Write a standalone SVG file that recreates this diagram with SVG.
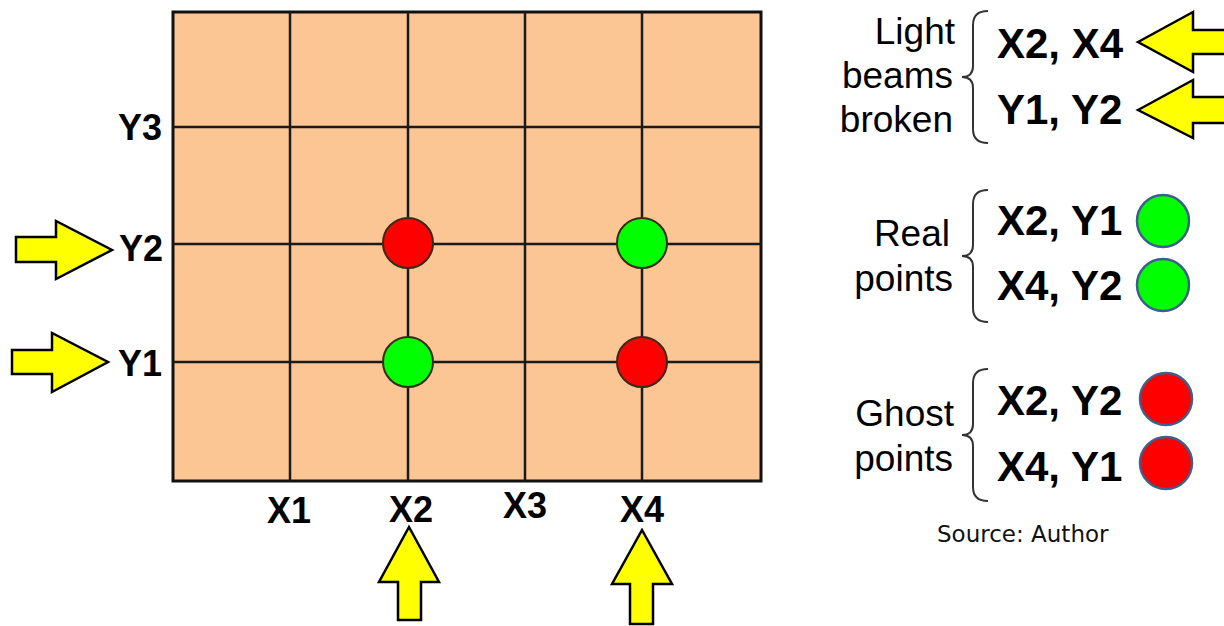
<svg xmlns="http://www.w3.org/2000/svg" width="1224" height="626" viewBox="0 0 1224 626">
<style>
.grid{fill:#fbc694;stroke:#111;stroke-width:3}
.gl{stroke:#1a1a1a;stroke-width:2.5;fill:none}
.arrow{fill:#ffff00;stroke:#000;stroke-width:2.5;stroke-linejoin:miter}
.lbl{font-family:"Liberation Sans",Arial,sans-serif;font-weight:bold;font-size:36px;fill:#000}
.big{font-family:"Liberation Sans",Arial,sans-serif;font-weight:bold;font-size:42px;fill:#000}
.reg{font-family:"Liberation Sans",Arial,sans-serif;font-size:37px;fill:#000;text-anchor:end}
.src{font-family:"DejaVu Sans",sans-serif;font-size:23px;fill:#111}
.red{fill:#ff0000;stroke:#3a2a1a;stroke-width:2}
.green{fill:#00ff00;stroke:#3a2a1a;stroke-width:2}
.redL{fill:#ff0000;stroke:#3d5f8c;stroke-width:2.5}
.greenL{fill:#00ff00;stroke:#3d5f8c;stroke-width:2.5}
.brace{fill:none;stroke:#333;stroke-width:2}
</style>
<defs>
<path id="br" d="M 26 0 C 16 0 11 5 11 14 L 11 55 C 11 62 7 66 0 66 C 7 66 11 70 11 77 L 11 118 C 11 127 16 132 26 132"/>
</defs>
<g id="grid">
<rect class="grid" x="173" y="12" width="588" height="469"/>
<path class="gl" d="M290 12V481M408 12V481M525 12V481M642 12V481M173 127H761M173 244H761M173 362H761"/>
</g>
<g id="points">
<circle class="red" cx="408" cy="243" r="25"/>
<circle class="green" cx="408" cy="362" r="25"/>
<circle class="green" cx="642" cy="243" r="25"/>
<circle class="red" cx="642" cy="362" r="25"/>
</g>
<g id="axis-labels">
<text class="lbl" x="162" y="140" text-anchor="end">Y3</text>
<text class="lbl" x="163" y="261" text-anchor="end">Y2</text>
<text class="lbl" x="162" y="376" text-anchor="end">Y1</text>
<text class="lbl" x="289" y="523" text-anchor="middle">X1</text>
<text class="lbl" x="411" y="522" text-anchor="middle">X2</text>
<text class="lbl" x="525" y="518" text-anchor="middle">X3</text>
<text class="lbl" x="642" y="522" text-anchor="middle">X4</text>
</g>
<g id="beam-arrows">
<polygon class="arrow" points="16,237 56,237 56,221 112,250 56,279 56,262 16,262"/>
<polygon class="arrow" points="12,350 52,350 52,333 108,362 52,392 52,374 12,374"/>
<polygon class="arrow" points="409,527 439,582 421,582 421,620 398,620 398,582 379,582"/>
<polygon class="arrow" points="642,530 672,584 653,584 653,624 630,624 630,584 612,584"/>
</g>
<g id="legend-beams">
<text class="reg" x="955" y="44">Light</text>
<text class="reg" x="953" y="88">beams</text>
<text class="reg" x="953" y="132">broken</text>
<use href="#br" class="brace" transform="translate(962,11)"/>
<text class="big" x="997" y="58">X2, X4</text>
<text class="big" x="997" y="124">Y1, Y2</text>
<polygon class="arrow" points="1138,42 1193,12 1193,30 1230,30 1230,54 1193,54 1193,72"/>
<polygon class="arrow" points="1138,110 1193,80 1193,97 1230,97 1230,123 1193,123 1193,138"/>
</g>
<g id="legend-real">
<text class="reg" x="950" y="246">Real</text>
<text class="reg" x="953" y="291">points</text>
<use href="#br" class="brace" transform="translate(962,190)"/>
<text class="big" x="997" y="235">X2, Y1</text>
<text class="big" x="997" y="300">X4, Y2</text>
<circle class="greenL" cx="1163" cy="221" r="26"/>
<circle class="greenL" cx="1163" cy="285" r="26"/>
</g>
<g id="legend-ghost">
<text class="reg" x="954" y="426">Ghost</text>
<text class="reg" x="953" y="471">points</text>
<use href="#br" class="brace" transform="translate(962,369)"/>
<text class="big" x="997" y="415">X2, Y2</text>
<text class="big" x="997" y="481">X4, Y1</text>
<circle class="redL" cx="1166" cy="399" r="26"/>
<circle class="redL" cx="1166" cy="463" r="26"/>
</g>
<text class="src" x="937" y="542">Source: Author</text>
</svg>
